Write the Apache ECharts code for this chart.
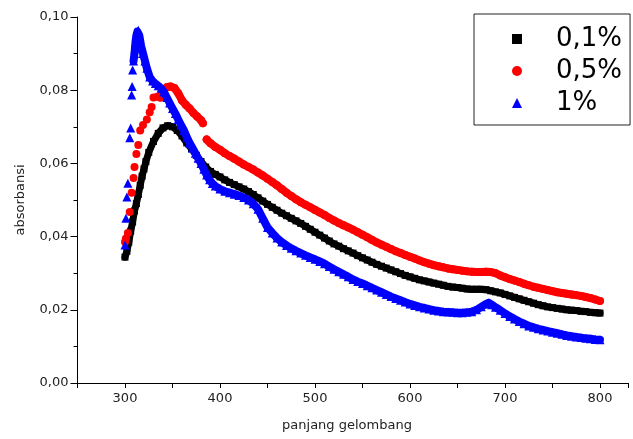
<!DOCTYPE html>
<html><head><meta charset="utf-8">
<script src="https://cdn.jsdelivr.net/npm/echarts@6/dist/echarts.min.js"></script>
<style>html,body{margin:0;padding:0;background:#fff}#c{width:633px;height:439px}</style>
</head><body><div id="c"></div>
<script>
const seriesNames = ['0,1%', '0,5%', '1%'];
const xTickLabels = ['300', '400', '500', '600', '700', '800'];
const yTickLabels = ['0,00', '0,02', '0,04', '0,06', '0,08', '0,10'];

const blackWl = [300,302,304,306,308,310,312,314,316,318,320,322,325,330,335,340,345,350,355,360,365,370,375,380,385,390,395,400,405,410,415,420,425,430,435,440,445,450,455,460,465,470,475,480,485,490,495,500,505,510,515,520,525,530,535,540,545,550,555,560,565,570,575,580,585,590,595,600,605,610,615,620,625,630,635,640,645,650,655,660,665,670,675,680,685,690,695,700,705,710,715,720,725,730,735,740,745,750,755,760,765,770,775,780,785,790,795,800];
const blackAbs = [.0344,.0360,.0385,.0415,.0440,.0470,.0490,.0515,.0540,.0565,.0585,.0605,.0630,.0660,.0682,.0697,.0703,.0700,.0690,.0675,.0656,.0640,.0622,.0605,.0590,.0578,.0570,.0563,.0555,.0548,.0542,.0536,.0530,.0523,.0515,.0506,.0497,.0488,.0480,.0472,.0464,.0457,.0450,.0443,.0436,.0428,.0420,.0412,.0404,.0396,.0388,.0380,.0374,.0367,.0361,.0355,.0348,.0342,.0336,.0330,.0324,.0319,.0314,.0309,.0304,.0299,.0294,.0290,.0286,.0282,.0279,.0276,.0273,.0270,.0267,.0264,.0262,.0261,.0259,.0257,.0256,.0256,.0256,.0255,.0252,.0249,.0246,.0242,.0238,.0234,.0230,.0226,.0222,.0218,.0214,.0211,.0208,.0206,.0204,.0202,.0200,.0199,.0198,.0196,.0195,.0193,.0192,.0191];

const redWl = [300,301,303,305,307,309,310,312,314,316,319,323,326,328,330,334,337,340,344,348,352,356,360,364,368,372,376,380,382,386,390,395,400,405,410,415,420,425,430,435,440,445,450,455,460,465,470,475,480,485,490,495,500,505,510,515,520,525,530,535,540,545,550,555,560,565,570,575,580,585,590,595,600,605,610,615,620,625,630,635,640,645,650,655,660,665,670,675,680,685,690,695,700,705,710,715,720,725,730,735,740,745,750,755,760,765,770,775,780,785,790,795,800];
const redAbs = [.0385,.0395,.0410,.0467,.0520,.0560,.0590,.0626,.0650,.0690,.0705,.0720,.0740,.0754,.0780,.0782,.0780,.0798,.0808,.0810,.0806,.0792,.0772,.0760,.0750,.0738,.0728,.0718,.0710,.0665,.0655,.0645,.0637,.0628,.0620,.0613,.0605,.0597,.0590,.0583,.0575,.0567,.0558,.0549,.0540,.0530,.0520,.0511,.0502,.0494,.0487,.0480,.0473,.0466,.0459,.0451,.0444,.0437,.0431,.0425,.0419,.0412,.0405,.0398,.0391,.0384,.0378,.0372,.0366,.0360,.0355,.0350,.0345,.0340,.0335,.0330,.0326,.0322,.0319,.0316,.0313,.0311,.0309,.0307,.0305,.0304,.0303,.0303,.0304,.0303,.0300,.0294,.0289,.0284,.0280,.0276,.0271,.0267,.0263,.0260,.0257,.0254,.0251,.0248,.0246,.0244,.0242,.0240,.0238,.0235,.0232,.0228,.0224];

const blueWl = [300,301,302,303,305,306,307,307.5,308,309,310,311,312,313,314,315,316,317,319,321,323,326,329,332,335,338,341,344,347,350,353,356,359,362,365,368,371,374,377,380,383,386,389,392,395,400,405,410,415,420,425,430,435,440,445,450,455,460,465,470,475,480,485,490,495,500,505,510,515,520,525,530,535,540,545,550,555,560,565,570,575,580,585,590,595,600,605,610,615,620,625,630,635,640,645,650,655,660,665,670,675,680,683,686,690,695,700,705,710,715,720,725,730,735,740,745,750,755,760,765,770,775,780,785,790,795,800];
const blueAbs = [.0377,.0450,.0508,.0546,.0670,.0697,.0787,.0810,.0855,.0880,.0900,.0930,.0950,.0960,.0964,.0950,.0935,.0920,.0900,.0880,.0860,.0836,.0825,.0818,.0812,.0805,.0795,.0780,.0765,.0750,.0736,.0720,.0705,.0690,.0672,.0656,.0642,.0628,.0614,.0600,.0584,.0568,.0555,.0545,.0538,.0530,.0524,.0520,.0516,.0512,.0507,.0500,.0490,.0475,.0450,.0425,.0410,.0396,.0385,.0376,.0368,.0361,.0355,.0349,.0343,.0338,.0332,.0326,.0318,.0311,.0304,.0297,.0290,.0283,.0277,.0272,.0266,.0260,.0254,.0248,.0242,.0236,.0231,.0226,.0221,.0216,.0212,.0208,.0205,.0202,.0199,.0197,.0195,.0194,.0193,.0192,.0192,.0193,.0195,.0200,.0208,.0216,.0219,.0214,.0207,.0199,.0190,.0182,.0175,.0168,.0162,.0156,.0152,.0148,.0145,.0142,.0139,.0136,.0133,.0130,.0128,.0126,.0124,.0122,.0121,.0119,.0118];

// wavelength ranges where the dense markers merge into a solid band
const blackBands = [[300, 800]];
const redBands = [[337, 382], [386, 800]];
const blueBands = [[309, 800]];

const pair = (xs, ys) => xs.map((x, i) => [x, ys[i]]);
const bandData = (xs, ys, bands) => {
  const out = [];
  bands.forEach((b, k) => {
    if (k > 0) out.push([(bands[k - 1][1] + b[0]) / 2, '-']);
    xs.forEach((x, i) => { if (x >= b[0] && x <= b[1]) out.push([x, ys[i]]); });
  });
  return out;
};
const FONT = 'DejaVu Sans, Liberation Sans, sans-serif';
const band = (color, width, data, z) => ({
  type: 'line', silent: true, showSymbol: false, symbol: 'none', connectNulls: false,
  lineStyle: {color, width, cap: 'round', join: 'round'}, data, z, legendHoverLink: false
});

const chart = echarts.init(document.getElementById('c'), null, {renderer: 'canvas'});
chart.setOption({
  animation: false,
  backgroundColor: '#fff',
  grid: {left: 77.5, right: 4.5, top: 17, bottom: 56, containLabel: false},
  legend: {
    orient: 'vertical', left: 474, top: 14,
    padding: [10, 8, 7, 38],
    borderColor: '#222', borderWidth: 1,
    itemWidth: 10, itemHeight: 10, itemGap: 2,
    textStyle: {fontFamily: FONT, fontSize: 26, color: '#000', lineHeight: 30, padding: [0, 0, 0, 29]},
    data: seriesNames
  },
  xAxis: {
    type: 'value', min: 250, max: 830, interval: 50,
    name: 'panjang gelombang', nameLocation: 'middle', nameGap: 36,
    nameTextStyle: {fontFamily: FONT, fontSize: 13, color: '#222', padding: [0, 12, 0, 0]},
    axisLine: {lineStyle: {color: '#000', width: 1}},
    axisTick: {show: true, length: 5, lineStyle: {color: '#000'}},
    axisLabel: {fontFamily: FONT, fontSize: 13, color: '#222', margin: 9,
      formatter: v => { const s = String(v); return xTickLabels.includes(s) ? s : ''; }},
    splitLine: {show: false}
  },
  yAxis: {
    type: 'value', min: 0, max: 0.1, interval: 0.02,
    name: 'absorbansi', nameLocation: 'middle', nameGap: 50,
    nameTextStyle: {fontFamily: FONT, fontSize: 13, color: '#222'},
    axisLine: {show: true, lineStyle: {color: '#000', width: 1}},
    axisTick: {show: true, length: 7, lineStyle: {color: '#000'}},
    minorTick: {show: true, splitNumber: 2, length: 4, lineStyle: {color: '#000'}},
    axisLabel: {fontFamily: FONT, fontSize: 13, color: '#222', margin: 9,
      formatter: v => yTickLabels[Math.round(v / 0.02)] || ''},
    splitLine: {show: false}
  },
  series: [
    band('#000', 7, bandData(blackWl, blackAbs, blackBands), 1),
    {name: seriesNames[0], type: 'scatter', symbol: 'rect', symbolSize: 7, z: 2,
     itemStyle: {color: '#000', opacity: 1}, data: pair(blackWl, blackAbs)},
    band('#ff0000', 8, bandData(redWl, redAbs, redBands), 3),
    {name: seriesNames[1], type: 'scatter', symbol: 'circle', symbolSize: 8, z: 4,
     itemStyle: {color: '#ff0000', opacity: 1}, data: pair(redWl, redAbs)},
    band('#0000ff', 8, bandData(blueWl, blueAbs, blueBands), 5),
    {name: seriesNames[2], type: 'scatter', symbol: 'triangle', symbolSize: 9, z: 6,
     itemStyle: {color: '#0000ff', opacity: 1}, data: pair(blueWl, blueAbs)}
  ]
});
</script></body></html>
